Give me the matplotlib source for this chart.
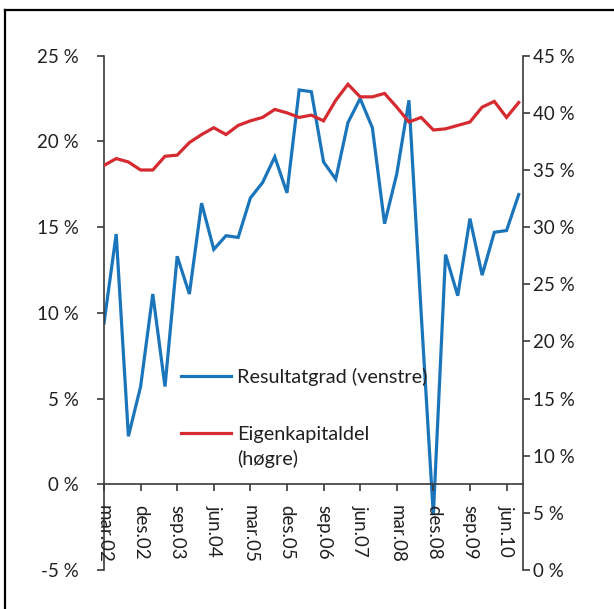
import matplotlib
matplotlib.use("Agg")
import matplotlib.pyplot as plt
from matplotlib.lines import Line2D
import numpy as np

plt.rcParams['font.family'] = ['Lato', 'DejaVu Sans']

quarters = ["mar.02", "jun.02", "sep.02", "des.02", "mar.03", "jun.03", "sep.03", "des.03",
            "mar.04", "jun.04", "sep.04", "des.04", "mar.05", "jun.05", "sep.05", "des.05",
            "mar.06", "jun.06", "sep.06", "des.06", "mar.07", "jun.07", "sep.07", "des.07",
            "mar.08", "jun.08", "sep.08", "des.08", "mar.09", "jun.09", "sep.09", "des.09",
            "mar.10", "jun.10", "sep.10"]

resultatgrad = [9.4, 14.6, 2.8, 5.7, 11.1, 5.7, 13.3, 11.1, 16.4, 13.7,
                14.5, 14.4, 16.7, 17.6, 19.1, 17.0, 23.0, 22.9, 18.8, 17.8,
                21.1, 22.5, 20.8, 15.2, 18.1, 22.4, 10.0, -1.8, 13.4, 11.0,
                15.5, 12.2, 14.7, 14.8, 16.9]

eigenkapitaldel = [35.4, 36.0, 35.7, 35.0, 35.0, 36.2, 36.3, 37.4, 38.1, 38.7,
                   38.1, 38.9, 39.3, 39.6, 40.3, 40.0, 39.6, 39.8, 39.3, 41.1,
                   42.5, 41.4, 41.4, 41.7, 40.5, 39.2, 39.6, 38.5, 38.6, 38.9,
                   39.2, 40.5, 41.0, 39.6, 40.9]

tick_labels = ["mar.02", "des.02", "sep.03", "jun.04", "mar.05", "des.05",
               "sep.06", "jun.07", "mar.08", "des.08", "sep.09", "jun.10"]

left_ticks = [-5, 0, 5, 10, 15, 20, 25]
right_ticks = [0, 5, 10, 15, 20, 25, 30, 35, 40, 45]

blue = "#1a75bb"
red = "#d52b30"
txt = "#231f20"
axcol = "#3a3a3a"
fs = 13.5
lfs = 14.3

W, H = 614, 609
fig = plt.figure(figsize=(W / 100, H / 100), dpi=100)
ax = fig.add_axes([104 / W, 1 - 570 / H, (523 - 104) / W, (570 - 55.7) / H])
ax2 = ax.twinx()

x = np.arange(len(quarters))
l1, = ax.plot(x, resultatgrad, color=blue, lw=2.3, solid_joinstyle='miter', zorder=2)
l2, = ax2.plot(x, eigenkapitaldel, color=red, lw=2.3, solid_joinstyle='miter', zorder=2)

ax.set_xlim(0, 34.35)
ax.set_ylim(-5, 25)
ax2.set_ylim(0, 45)

ax.set_yticks(left_ticks)
ax.set_yticklabels([f"{v} %" for v in left_ticks])
ax2.set_yticks(right_ticks)
ax2.set_yticklabels([f"{v} %" for v in right_ticks])

tick_pos = [quarters.index(t) for t in tick_labels]
ax.set_xticks(tick_pos)
ax.set_xticklabels(tick_labels)

for a in (ax, ax2):
    a.spines['top'].set_visible(False)
    for s in a.spines.values():
        s.set_color(axcol)
        s.set_linewidth(1.2)
ax.spines['bottom'].set_position(('data', 0))
ax2.spines['bottom'].set_visible(False)
ax.spines['right'].set_visible(False)
ax2.spines['left'].set_visible(False)

ax.tick_params(axis='y', direction='out', length=5, width=1.2, color=axcol,
               labelsize=fs, labelcolor=txt, pad=13)
ax2.tick_params(axis='y', direction='out', length=5, width=1.2, color=axcol,
                labelsize=fs, labelcolor=txt, pad=2)
ax.tick_params(axis='x', direction='out', length=5, width=1.2, color=axcol,
               labelsize=fs, labelcolor=txt, pad=10, labelrotation=270)
for lbl in ax.get_xticklabels():
    lbl.set_va('top')
    lbl.set_ha('center')
ax.xaxis.set_zorder(3)

leg = ax2.legend([l1, l2], ["Resultatgrad (venstre)", "Eigenkapitaldel"],
                 loc='upper left', bbox_to_anchor=(0.142, 0.428), frameon=False,
                 fontsize=lfs, handlelength=2.5, handletextpad=0.3, labelspacing=2.0,
                 labelcolor=txt)
ax2.annotate("(høgre)", xy=(0, 0), xycoords=leg.get_texts()[1],
             xytext=(0, -25), textcoords='offset pixels', va='bottom', ha='left',
             fontsize=lfs, color=txt, zorder=10)

# outer frame (cut at right and bottom)
fig.add_artist(Line2D([5 / W, 5 / W], [0, 1 - 10 / H], transform=fig.transFigure,
                      color='black', lw=1.6))
fig.add_artist(Line2D([5 / W, 1], [1 - 10 / H, 1 - 10 / H], transform=fig.transFigure,
                      color='black', lw=1.6))

fig.savefig("out.png", dpi=100)
